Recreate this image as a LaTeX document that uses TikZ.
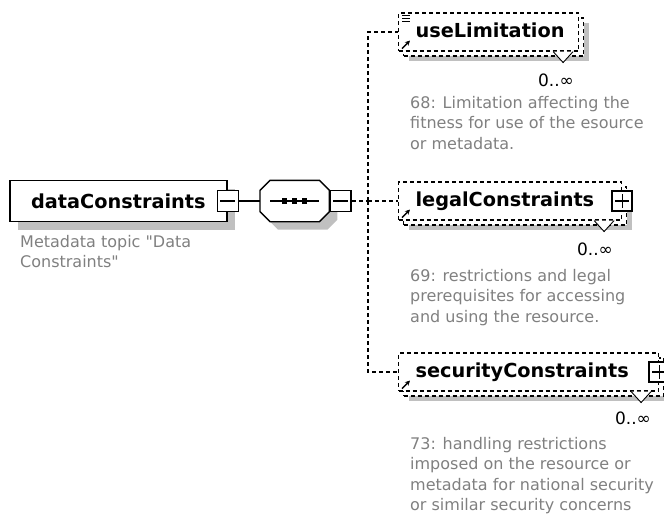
\documentclass[tikz,border=0pt]{standalone}
\usepackage{fontspec}
\setmainfont{DejaVu Sans}[Ligatures=TeXOff]
\usepackage{tikz}
\usetikzlibrary{arrows.meta,positioning,shadows}
\definecolor{shadowgray}{RGB}{192,192,192}
\definecolor{notegray}{RGB}{128,128,128}
\newcommand{\namefont}{\fontsize{19.3}{23}\selectfont\bfseries}
\newcommand{\notefont}{\fontsize{16}{20.5}\selectfont}
\newcommand{\multfont}{\fontsize{17}{20}\selectfont}
% octagon of the sequence compositor, drawn round an empty node
\newcommand{\seqoctagon}[1]{([xshift=10pt]#1.north west) -- ([xshift=-10pt]#1.north east)
  -- ([yshift=-10pt]#1.north east) -- ([yshift=10pt]#1.south east)
  -- ([xshift=-10pt]#1.south east) -- ([xshift=10pt]#1.south west)
  -- ([yshift=10pt]#1.south west) -- ([yshift=-10pt]#1.north west) -- cycle}

\begin{document}
\begin{tikzpicture}[x=1pt, y=-1pt,
  elem/.style={draw, line width=1.8pt, fill=white, anchor=west, font=\namefont,
               minimum width=217pt, minimum height=41pt, inner sep=0pt,
               drop shadow={shadow xshift=8pt, shadow yshift=-8pt, opacity=1, fill=shadowgray}},
  optelem/.style={draw, dash pattern=on 4pt off 3pt, line width=1.1pt, fill=white, anchor=west,
               font=\namefont, text width=#1, align=left, minimum height=38pt, inner sep=0pt,
               execute at begin node={\noindent\hspace*{17pt}\vphantom{Ag}},
               drop shadow={shadow xshift=10pt, shadow yshift=-10pt, opacity=1, fill=shadowgray},
               copy shadow={shadow xshift=5pt, shadow yshift=-5pt, draw=black, fill=white,
                            dash pattern=on 4pt off 3pt}},
  signbox/.style={draw, line width=1.4pt, fill=white, minimum size=21pt, inner sep=0pt},
  minusbox/.style={signbox, path picture={
      \draw[line width=1.1pt] ([xshift=3pt]path picture bounding box.west)
        -- ([xshift=-3pt]path picture bounding box.east);}},
  plusbox/.style={signbox, minimum size=20pt, path picture={
      \draw[line width=1.1pt] ([xshift=3pt]path picture bounding box.west)
        -- ([xshift=-3pt]path picture bounding box.east);
      \draw[line width=1.1pt] ([yshift=-3pt]path picture bounding box.north)
        -- ([yshift=3pt]path picture bounding box.south);}},
  seqnode/.style={minimum width=69pt, minimum height=41pt, inner sep=0pt, anchor=west},
  note/.style={font=\notefont, text=notegray, align=left, inner sep=0pt, anchor=north west},
  mult/.style={font=\multfont, inner sep=0pt, anchor=east},
  link/.style={line width=1.2pt},
  optlink/.style={line width=1.1pt, dash pattern=on 4pt off 3pt},
  refarrow/.style={line width=1.4pt, -{Stealth[length=5pt, width=5pt]}}]
\useasboundingbox (0,0) rectangle (664,515);

% root element and its sequence
\node[elem] (dataC) at (9,201) {dataConstraints};
\node[minusbox] (dcminus) at (dataC.east) {};
\node[note] (dcnote) at (20,235) {Metadata topic "Data\\Constraints"};
\node[seqnode, right=21pt of dcminus] (seq) {};
\fill[shadowgray, transform canvas={shift={(8pt,-8pt)}}] \seqoctagon{seq};
\draw[line width=1.4pt, fill=white] \seqoctagon{seq};
\draw[link] ([xshift=10pt]seq.west) -- ([xshift=-10pt]seq.east);
\foreach \dx in {-10,0,10}
  \fill ([xshift=\dx pt]seq.center) +(-2.7,-2.7) rectangle +(2.7,2.7);
\node[minusbox, anchor=west] (seqminus) at (seq.east) {};
\draw[link] (dcminus) -- (seq);

% child elements
\node[optelem=223pt] (legalC) at (398,201) {legalConstraints};
\node[optelem=180pt] (useLim) at ([yshift=169pt]legalC.west) {useLimitation};
\node[optelem=260pt] (secC) at ([yshift=-171pt]legalC.west) {securityConstraints};
\node[plusbox] (legalplus) at (legalC.east) {};
\node[plusbox] (secplus) at (secC.east) {};
\foreach \dy in {3,6,9}
  \draw[line width=0.9pt] ([shift={(4pt,-\dy pt)}]useLim.north west) -- ++(8,0);
\foreach \n in {useLim,legalC,secC}
  \draw[refarrow] ([shift={(4pt,3pt)}]\n.south west) -- ++(8,-8);
\draw[line width=0.9pt, fill=white] ([xshift=-26pt]useLim.south east) -- ++(10,11) -- ++(10,-11);
\draw[line width=0.9pt, fill=white] ([xshift=-28pt]legalC.south east) -- ++(10,11) -- ++(10,-11);
\draw[line width=0.9pt, fill=white] ([xshift=-28pt]secC.south east) -- ++(10,11) -- ++(10,-11);
\node[mult] (useLimmult) at ([shift={(-5pt,-29pt)}]useLim.south east) {0..∞};
\node[mult] (legalCmult) at ([shift={(-9pt,-29pt)}]legalC.south east) {0..∞};
\node[mult] (secCmult) at ([shift={(-8pt,-27pt)}]secC.south east) {0..∞};

% connectors to the children
\coordinate (trunk) at (368,201);
\draw[optlink] (seqminus.east) -- (trunk);
\draw[optlink] (trunk) |- (useLim.west);
\draw[optlink] (trunk) -- (legalC.west);
\draw[optlink] (trunk) |- (secC.west);

% annotations
\node[note] (useLimnote) at (410,96) {68: Limitation affecting the\\fitness for use of the esource\\or metadata.};
\node[note] (legalCnote) at (410,269) {69: restrictions and legal\\prerequisites for accessing\\and using the resource.};
\node[note] (secCnote) at (410,437) {73: handling restrictions\\imposed on the resource or\\metadata for national security\\or similar security concerns};
\end{tikzpicture}
\end{document}
